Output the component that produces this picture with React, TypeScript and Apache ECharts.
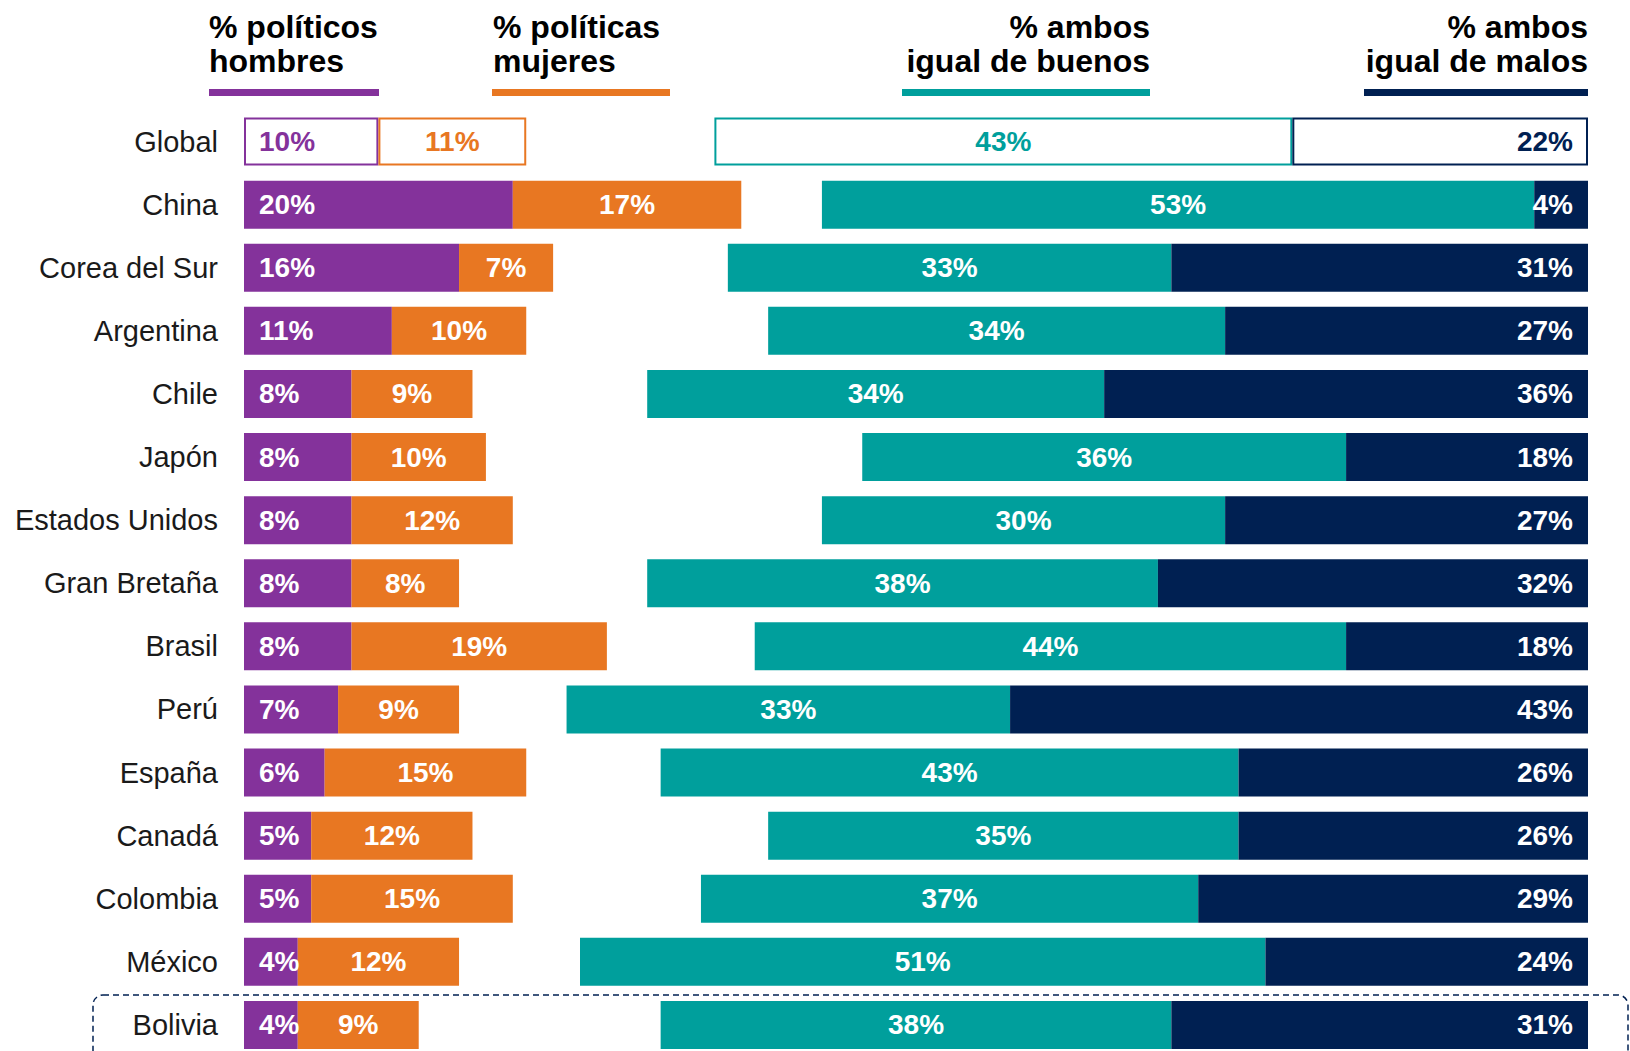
import React, { useEffect, useRef } from "react";
import * as echarts from "echarts";

const categories = [
  "Global", "China", "Corea del Sur", "Argentina", "Chile", "Japón",
  "Estados Unidos", "Gran Bretaña", "Brasil", "Perú", "España", "Canadá",
  "Colombia", "México", "Bolivia",
];
const hombres = [10, 20, 16, 11, 8, 8, 8, 8, 8, 7, 6, 5, 5, 4, 4];
const mujeres = [11, 17, 7, 10, 9, 10, 12, 8, 19, 9, 15, 12, 15, 12, 9];
const buenos = [43, 53, 33, 34, 34, 36, 30, 38, 44, 33, 43, 35, 37, 51, 38];
const malos = [22, 4, 31, 27, 36, 18, 27, 32, 18, 43, 26, 26, 29, 24, 31];

const headers = [
  { text: "% políticos\nhombres", color: "#84329B" },
  { text: "% políticas\nmujeres", color: "#E87722" },
  { text: "% ambos\nigual de buenos", color: "#009F9C" },
  { text: "% ambos\nigual de malos", color: "#002052" },
];

const PURPLE = "#84329B";
const ORANGE = "#E87722";
const TEAL = "#009F9C";
const NAVY = "#002052";
const FONT = '"Liberation Sans", Arial, sans-serif';

export default function App() {
  const ref = useRef<HTMLDivElement>(null);
  useEffect(() => {
    if (!ref.current) return;
    const chart = echarts.init(ref.current, null, { renderer: "svg" });
    const gaps = categories.map(
      (_, i) => 100 - hombres[i] - mujeres[i] - buenos[i] - malos[i]
    );
    const mk = (
      name: string,
      vals: number[],
      color: string,
      position: string,
      distance: number
    ) => ({
      name,
      type: "bar",
      stack: "all",
      barWidth: 48,
      data: vals.map((v, i) =>
        i === 0
          ? {
              value: v,
              itemStyle: { color: "#ffffff", borderColor: color, borderWidth: 2 },
              label: { color },
            }
          : { value: v }
      ),
      itemStyle: { color },
      label: {
        show: true,
        position,
        distance,
        formatter: "{c}%",
        color: "#ffffff",
        fontFamily: FONT,
        fontWeight: "bold",
        fontSize: 28,
      },
    });
    const headerPos = [
      { x: 209, align: "left" },
      { x: 493, align: "left" },
      { x: 1150, align: "right" },
      { x: 1588, align: "right" },
    ];
    const underline = [
      { x: 209, w: 170 },
      { x: 492, w: 178 },
      { x: 902, w: 248 },
      { x: 1364, w: 224 },
    ];
    const graphic: any[] = [];
    headers.forEach((h, i) => {
      graphic.push({
        type: "text",
        x: headerPos[i].x,
        y: 10,
        style: {
          text: h.text,
          fill: "#000000",
          font: `bold 32px ${FONT}`,
          lineHeight: 34,
          align: headerPos[i].align,
          verticalAlign: "top",
        },
      });
      graphic.push({
        type: "rect",
        shape: { x: underline[i].x, y: 89, width: underline[i].w, height: 7 },
        style: { fill: h.color },
      });
    });
    graphic.push({
      type: "rect",
      shape: { x: 93, y: 995, width: 1535, height: 90, r: 10 },
      style: { fill: "none", stroke: NAVY, lineWidth: 1.5, lineDash: [6, 4] },
      z: 100,
    });

    chart.setOption({
      animation: false,
      grid: { left: 244, top: 110, width: 1344, height: 946.5, containLabel: false },
      xAxis: { type: "value", min: 0, max: 100, show: false },
      yAxis: {
        type: "category",
        data: categories,
        inverse: true,
        axisLine: { show: false },
        axisTick: { show: false },
        splitLine: { show: false },
        axisLabel: {
          margin: 26,
          fontSize: 29,
          color: "#1a1a1a",
          fontFamily: FONT,
        },
      },
      graphic,
      series: [
        mk("hombres", hombres, PURPLE, "insideLeft", 15),
        mk("mujeres", mujeres, ORANGE, "inside", 0),
        {
          name: "gap",
          type: "bar",
          stack: "all",
          barWidth: 48,
          data: gaps,
          itemStyle: { color: "transparent" },
          label: { show: false },
          silent: true,
        },
        mk("buenos", buenos, TEAL, "inside", 0),
        mk("malos", malos, NAVY, "insideRight", 15),
      ],
    });
    return () => chart.dispose();
  }, []);
  return (
    <div
      style={{ position: "absolute", left: 0, top: 0, width: 1630, height: 1051, overflow: "hidden", background: "#fff" }}
    >
      <div ref={ref} style={{ width: 1630, height: 1120 }} />
    </div>
  );
}
